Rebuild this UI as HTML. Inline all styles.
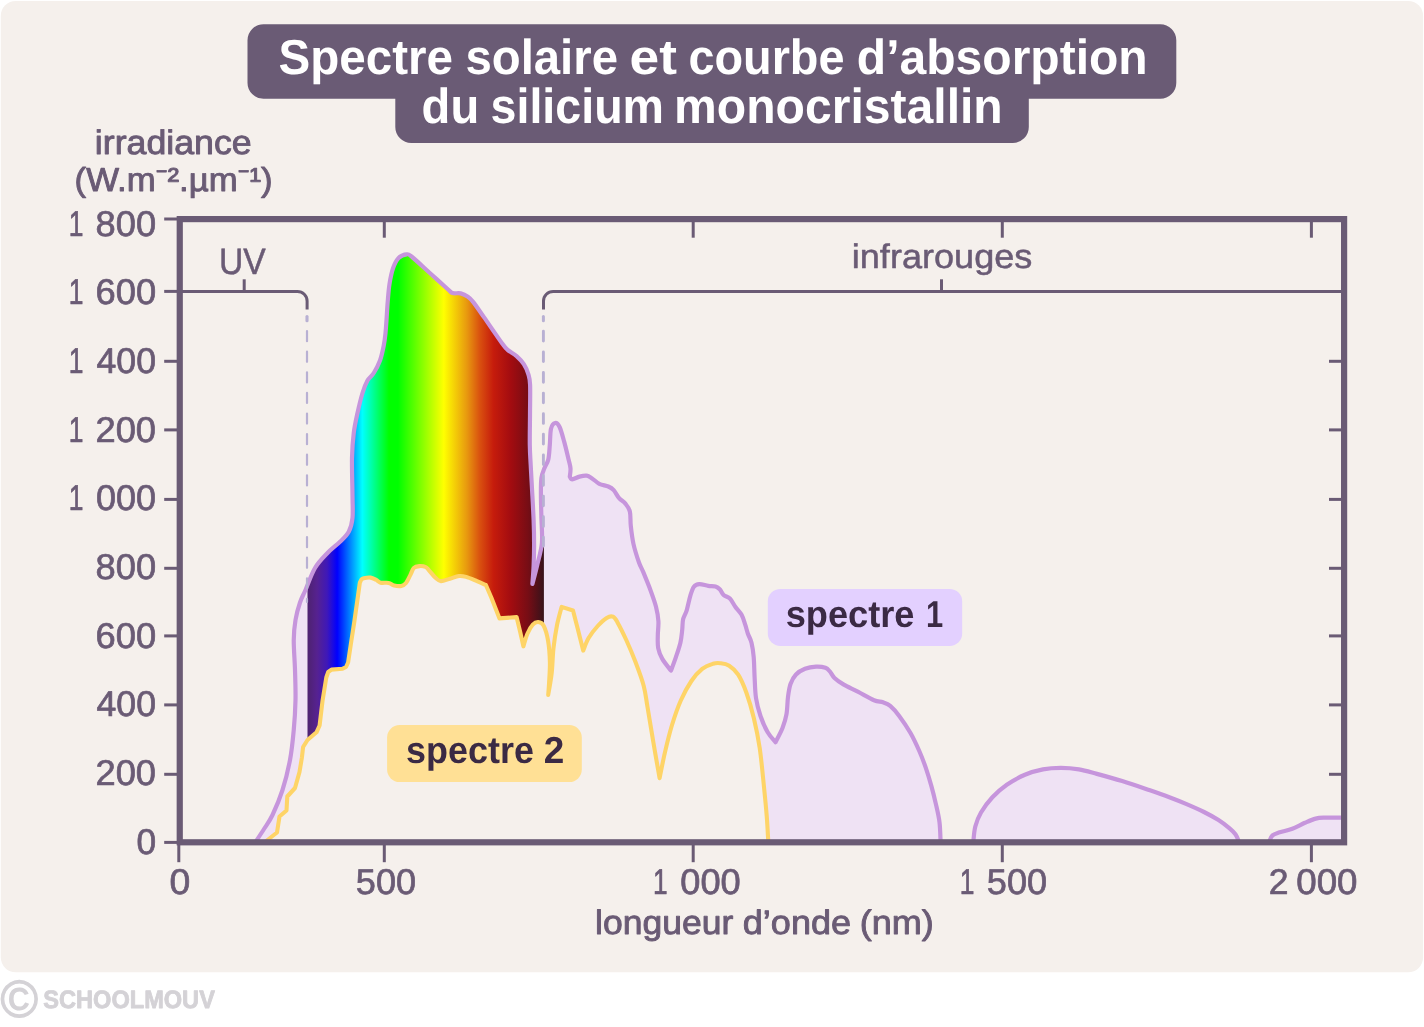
<!DOCTYPE html>
<html lang="fr"><head><meta charset="utf-8">
<title>Spectre solaire et courbe d’absorption du silicium monocristallin</title>
<style>
html,body{margin:0;padding:0;background:#fff;}
body{width:1424px;height:1027px;overflow:hidden;}
svg{display:block;font-family:"Liberation Sans",sans-serif;text-rendering:geometricPrecision;}
</style></head><body>
<svg width="1424" height="1027" viewBox="0 0 1424 1027">
<defs>
<linearGradient id="rainbow" gradientUnits="userSpaceOnUse" x1="307.5" y1="0" x2="543.6" y2="0">
<stop offset="0.0000" stop-color="#4e2270"/>
<stop offset="0.0402" stop-color="#562290"/>
<stop offset="0.0826" stop-color="#3f18b8"/>
<stop offset="0.1258" stop-color="#0000ff"/>
<stop offset="0.2321" stop-color="#00ffff"/>
<stop offset="0.3452" stop-color="#00ff00"/>
<stop offset="0.3833" stop-color="#00ff00"/>
<stop offset="0.5773" stop-color="#ffff00"/>
<stop offset="0.6747" stop-color="#e8990f"/>
<stop offset="0.7306" stop-color="#d9500f"/>
<stop offset="0.7874" stop-color="#c61c0c"/>
<stop offset="0.8607" stop-color="#a30c10"/>
<stop offset="0.9348" stop-color="#760d15"/>
<stop offset="1.0000" stop-color="#38121a"/>
</linearGradient>
<clipPath id="underPurple"><path d="M255.50,842.00C256.92,839.83 261.17,833.50 264.00,829.00C266.83,824.50 269.42,821.50 272.50,815.00C275.58,808.50 279.58,799.17 282.50,790.00C285.42,780.83 288.12,770.00 290.00,760.00C291.88,750.00 292.83,740.00 293.75,730.00C294.67,720.00 295.29,710.00 295.50,700.00C295.71,690.00 295.29,680.00 295.00,670.00C294.71,660.00 293.67,648.33 293.75,640.00C293.83,631.67 294.46,626.25 295.50,620.00C296.54,613.75 298.33,607.50 300.00,602.50C301.67,597.50 303.00,595.75 305.50,590.00C308.00,584.25 311.33,574.17 315.00,568.00C318.67,561.83 323.33,557.38 327.50,553.00C331.67,548.62 336.46,545.29 340.00,541.75C343.54,538.21 346.67,535.71 348.75,531.75C350.83,527.79 351.88,524.04 352.50,518.00C353.12,511.96 352.58,505.50 352.50,495.50C352.42,485.50 351.79,468.42 352.00,458.00C352.21,447.58 352.83,440.50 353.75,433.00C354.67,425.50 356.04,419.67 357.50,413.00C358.96,406.33 360.83,398.42 362.50,393.00C364.17,387.58 365.62,383.83 367.50,380.50C369.38,377.17 371.67,376.33 373.75,373.00C375.83,369.67 378.33,365.08 380.00,360.50C381.67,355.92 382.83,350.08 383.75,345.50C384.67,340.92 385.04,337.25 385.50,333.00C385.96,328.75 386.13,325.17 386.50,320.00C386.87,314.83 387.20,308.00 387.70,302.00C388.20,296.00 388.58,289.70 389.50,284.00C390.42,278.30 391.68,272.15 393.20,267.80C394.72,263.45 396.35,260.15 398.60,257.90C400.85,255.65 404.45,254.45 406.70,254.30C408.95,254.15 408.20,253.85 412.10,257.00C416.00,260.15 424.10,267.78 430.10,273.20C436.10,278.62 444.35,286.18 448.10,289.50C451.85,292.82 450.50,292.45 452.60,293.10C454.70,293.75 458.15,292.80 460.70,293.40C463.25,294.00 465.80,295.25 467.90,296.70C470.00,298.15 470.60,298.65 473.30,302.10C476.00,305.55 479.28,310.50 484.10,317.40C488.92,324.30 498.28,338.10 502.20,343.50C506.12,348.90 505.20,347.70 507.60,349.80C510.00,351.90 513.90,353.70 516.60,356.10C519.30,358.50 521.85,361.20 523.80,364.20C525.75,367.20 527.25,370.65 528.30,374.10C529.35,377.55 529.82,378.08 530.10,384.90C530.38,391.72 530.05,404.98 530.00,415.00C529.95,425.02 529.68,436.67 529.80,445.00C529.92,453.33 530.35,458.00 530.70,465.00C531.05,472.00 531.42,477.83 531.90,487.00C532.38,496.17 533.23,510.33 533.60,520.00C533.97,529.67 534.10,537.33 534.10,545.00C534.10,552.67 533.88,559.50 533.60,566.00C533.32,572.50 532.60,581.00 532.40,584.00C533.22,580.78 535.72,571.53 537.30,564.70C538.88,557.87 541.22,550.78 541.90,543.00C542.58,535.22 541.57,526.07 541.40,518.00C541.23,509.93 540.90,501.27 540.90,494.60C540.90,487.93 540.80,482.43 541.40,478.00C542.00,473.57 543.35,471.08 544.50,468.00C545.65,464.92 547.42,463.33 548.30,459.50C549.18,455.67 549.35,450.12 549.80,445.00C550.25,439.88 550.12,432.47 551.00,428.80C551.88,425.13 553.67,423.30 555.10,423.00C556.53,422.70 558.10,423.93 559.60,427.00C561.10,430.07 562.60,435.98 564.10,441.40C565.60,446.82 567.53,454.98 568.60,459.50C569.67,464.02 570.30,465.65 570.50,468.50C570.70,471.35 569.92,475.25 569.80,476.60C570.22,477.05 570.68,479.30 572.30,479.30C573.92,479.30 577.10,477.20 579.50,476.60C581.90,476.00 584.60,475.40 586.70,475.70C588.80,476.00 590.00,477.05 592.10,478.40C594.20,479.75 596.60,482.45 599.30,483.80C602.00,485.15 605.90,485.45 608.30,486.50C610.70,487.55 611.90,488.15 613.70,490.10C615.50,492.05 617.15,495.95 619.10,498.20C621.05,500.45 623.60,501.35 625.40,503.60C627.20,505.85 629.00,507.95 629.90,511.70C630.80,515.45 630.20,520.70 630.80,526.10C631.40,531.50 632.15,538.08 633.50,544.10C634.85,550.12 637.25,557.48 638.90,562.20C640.55,566.92 641.45,567.68 643.40,572.40C645.35,577.12 648.50,584.78 650.60,590.50C652.70,596.22 654.70,601.60 656.00,606.70C657.30,611.80 658.10,616.30 658.40,621.10C658.70,625.90 657.83,631.00 657.80,635.50C657.77,640.00 657.45,644.20 658.20,648.10C658.95,652.00 660.17,655.15 662.30,658.90C664.43,662.65 669.55,668.65 671.00,670.60C671.82,668.35 674.33,661.75 675.90,657.10C677.47,652.45 679.35,647.20 680.40,642.70C681.45,638.20 681.75,634.00 682.20,630.10C682.65,626.20 682.35,622.60 683.10,619.30C683.85,616.00 685.50,614.20 686.70,610.30C687.90,606.40 689.10,599.82 690.30,595.90C691.50,591.98 692.40,588.77 693.90,586.80C695.40,584.83 696.90,584.25 699.30,584.10C701.70,583.95 705.60,585.50 708.30,585.90C711.00,586.30 713.55,585.90 715.50,586.50C717.45,587.10 718.65,588.08 720.00,589.50C721.35,590.92 721.95,593.48 723.60,595.00C725.25,596.52 727.95,596.65 729.90,598.60C731.85,600.55 733.35,604.00 735.30,606.70C737.25,609.40 739.95,611.80 741.60,614.80C743.25,617.80 744.15,621.55 745.20,624.70C746.25,627.85 746.85,630.70 747.90,633.70C748.95,636.70 750.53,638.80 751.50,642.70C752.47,646.60 753.18,651.38 753.70,657.10C754.22,662.82 754.22,670.18 754.60,677.00C754.98,683.82 755.02,691.50 756.00,698.00C756.98,704.50 758.55,710.28 760.50,716.00C762.45,721.72 765.20,727.93 767.70,732.30C770.20,736.67 774.20,740.55 775.50,742.20C776.67,739.83 780.67,732.67 782.50,728.00C784.33,723.33 785.58,719.37 786.50,714.20C787.42,709.03 787.33,702.03 788.00,697.00C788.67,691.97 789.17,687.75 790.50,684.00C791.83,680.25 793.58,677.03 796.00,674.50C798.42,671.97 801.67,670.12 805.00,668.80C808.33,667.48 812.60,666.77 816.00,666.60C819.40,666.43 823.07,666.95 825.40,667.80C827.73,668.65 828.48,670.00 830.00,671.70C831.52,673.40 832.27,675.88 834.50,678.00C836.73,680.12 839.52,682.13 843.40,684.40C847.28,686.67 852.70,688.97 857.80,691.60C862.90,694.23 869.80,698.42 874.00,700.20C878.20,701.98 880.30,701.35 883.00,702.30C885.70,703.25 887.50,703.63 890.20,705.90C892.90,708.17 895.82,711.38 899.20,715.90C902.58,720.42 907.12,727.07 910.50,733.00C913.88,738.93 916.93,745.65 919.50,751.50C922.07,757.35 923.92,762.33 925.90,768.10C927.88,773.87 929.73,780.10 931.40,786.10C933.07,792.10 934.55,798.08 935.90,804.10C937.25,810.12 938.72,815.88 939.50,822.20C940.28,828.52 940.42,838.70 940.60,842.00L940.6,842 L255.5,842ZM973.30,842.00C973.63,839.42 974.02,831.42 975.30,826.50C976.58,821.58 978.15,817.37 981.00,812.50C983.85,807.63 988.10,801.93 992.40,797.30C996.70,792.67 1001.38,788.45 1006.80,784.70C1012.22,780.95 1018.88,777.35 1024.90,774.80C1030.92,772.25 1036.90,770.55 1042.90,769.40C1048.90,768.25 1054.90,767.90 1060.90,767.90C1066.90,767.90 1072.90,768.40 1078.90,769.40C1084.90,770.40 1089.68,771.95 1096.90,773.90C1104.12,775.85 1113.48,778.40 1122.20,781.10C1130.92,783.80 1141.23,787.37 1149.20,790.10C1157.17,792.83 1163.87,795.20 1170.00,797.50C1176.13,799.80 1180.33,801.48 1186.00,803.90C1191.67,806.32 1198.58,809.30 1204.00,812.00C1209.42,814.70 1214.28,817.40 1218.50,820.10C1222.72,822.80 1226.45,825.80 1229.30,828.20C1232.15,830.60 1233.98,832.20 1235.60,834.50C1237.22,836.80 1238.43,840.75 1239.00,842.00ZM1269.00,842.00C1269.58,840.90 1270.72,837.02 1272.50,835.40C1274.28,833.78 1276.40,833.42 1279.70,832.30C1283.00,831.18 1288.10,830.28 1292.30,828.70C1296.50,827.12 1301.00,824.48 1304.90,822.80C1308.80,821.12 1312.38,819.47 1315.70,818.60C1319.02,817.73 1320.58,817.77 1324.80,817.60C1329.02,817.43 1338.30,817.60 1341.00,817.60L1341,842 L1269,842Z"/></clipPath>
</defs>
<rect x="0.8" y="0.9" width="1422.3" height="971.4" rx="15" ry="15" fill="#f5f0ec"/>
<path fill="#6a5b75" d="M263.5,24.3H1160.3a16,16 0 0 1 16,16V82.8a16,16 0 0 1 -16,16H1028.8V127a16,16 0 0 1 -16,16H411.3a16,16 0 0 1 -16,-16V98.8H263.5a16,16 0 0 1 -16,-16V40.3a16,16 0 0 1 16,-16Z"/>
<text y="74.00" font-size="49.2" fill="#fff" font-weight="bold"><tspan id="w1" x="278.46" textLength="174.53" lengthAdjust="spacingAndGlyphs">Spectre</tspan> <tspan id="w2" x="465.48" textLength="152.48" lengthAdjust="spacingAndGlyphs">solaire</tspan> <tspan id="w3" x="629.54" textLength="47.40" lengthAdjust="spacingAndGlyphs">et</tspan> <tspan id="w4" x="688.39" textLength="156.13" lengthAdjust="spacingAndGlyphs">courbe</tspan> <tspan id="w5" x="856.83" textLength="290.87" lengthAdjust="spacingAndGlyphs">d’absorption</tspan></text>
<text y="123.30" font-size="49.2" fill="#fff" font-weight="bold"><tspan id="w6" x="421.57" textLength="57.64" lengthAdjust="spacingAndGlyphs">du</tspan> <tspan id="w7" x="490.56" textLength="173.47" lengthAdjust="spacingAndGlyphs">silicium</tspan> <tspan id="w8" x="674.08" textLength="328.67" lengthAdjust="spacingAndGlyphs">monocristallin</tspan></text>
<text y="154.20" font-size="34" fill="#6a5b75" stroke="#6a5b75" stroke-width="0.9" stroke-linejoin="round"><tspan id="w9" x="94.85" textLength="156.85" lengthAdjust="spacingAndGlyphs">irradiance</tspan></text>
<text y="190.60" font-size="33.3" fill="#6a5b75" stroke="#6a5b75" stroke-width="0.9" stroke-linejoin="round"><tspan id="w10" x="74.55" textLength="198.02" lengthAdjust="spacingAndGlyphs">(W.m⁻².µm⁻¹)</tspan></text>
<text y="934.00" font-size="33.8" fill="#6a5b75" stroke="#6a5b75" stroke-width="0.9" stroke-linejoin="round"><tspan id="w11" x="595.05" textLength="138.18" lengthAdjust="spacingAndGlyphs">longueur</tspan> <tspan id="w12" x="742.81" textLength="108.23" lengthAdjust="spacingAndGlyphs">d’onde</tspan> <tspan id="w13" x="859.65" textLength="74.12" lengthAdjust="spacingAndGlyphs">(nm)</tspan></text>
<path d="M255.50,842.00C256.92,839.83 261.17,833.50 264.00,829.00C266.83,824.50 269.42,821.50 272.50,815.00C275.58,808.50 279.58,799.17 282.50,790.00C285.42,780.83 288.12,770.00 290.00,760.00C291.88,750.00 292.83,740.00 293.75,730.00C294.67,720.00 295.29,710.00 295.50,700.00C295.71,690.00 295.29,680.00 295.00,670.00C294.71,660.00 293.67,648.33 293.75,640.00C293.83,631.67 294.46,626.25 295.50,620.00C296.54,613.75 298.33,607.50 300.00,602.50C301.67,597.50 303.00,595.75 305.50,590.00C308.00,584.25 311.33,574.17 315.00,568.00C318.67,561.83 323.33,557.38 327.50,553.00C331.67,548.62 336.46,545.29 340.00,541.75C343.54,538.21 346.67,535.71 348.75,531.75C350.83,527.79 351.88,524.04 352.50,518.00C353.12,511.96 352.58,505.50 352.50,495.50C352.42,485.50 351.79,468.42 352.00,458.00C352.21,447.58 352.83,440.50 353.75,433.00C354.67,425.50 356.04,419.67 357.50,413.00C358.96,406.33 360.83,398.42 362.50,393.00C364.17,387.58 365.62,383.83 367.50,380.50C369.38,377.17 371.67,376.33 373.75,373.00C375.83,369.67 378.33,365.08 380.00,360.50C381.67,355.92 382.83,350.08 383.75,345.50C384.67,340.92 385.04,337.25 385.50,333.00C385.96,328.75 386.13,325.17 386.50,320.00C386.87,314.83 387.20,308.00 387.70,302.00C388.20,296.00 388.58,289.70 389.50,284.00C390.42,278.30 391.68,272.15 393.20,267.80C394.72,263.45 396.35,260.15 398.60,257.90C400.85,255.65 404.45,254.45 406.70,254.30C408.95,254.15 408.20,253.85 412.10,257.00C416.00,260.15 424.10,267.78 430.10,273.20C436.10,278.62 444.35,286.18 448.10,289.50C451.85,292.82 450.50,292.45 452.60,293.10C454.70,293.75 458.15,292.80 460.70,293.40C463.25,294.00 465.80,295.25 467.90,296.70C470.00,298.15 470.60,298.65 473.30,302.10C476.00,305.55 479.28,310.50 484.10,317.40C488.92,324.30 498.28,338.10 502.20,343.50C506.12,348.90 505.20,347.70 507.60,349.80C510.00,351.90 513.90,353.70 516.60,356.10C519.30,358.50 521.85,361.20 523.80,364.20C525.75,367.20 527.25,370.65 528.30,374.10C529.35,377.55 529.82,378.08 530.10,384.90C530.38,391.72 530.05,404.98 530.00,415.00C529.95,425.02 529.68,436.67 529.80,445.00C529.92,453.33 530.35,458.00 530.70,465.00C531.05,472.00 531.42,477.83 531.90,487.00C532.38,496.17 533.23,510.33 533.60,520.00C533.97,529.67 534.10,537.33 534.10,545.00C534.10,552.67 533.88,559.50 533.60,566.00C533.32,572.50 532.60,581.00 532.40,584.00C533.22,580.78 535.72,571.53 537.30,564.70C538.88,557.87 541.22,550.78 541.90,543.00C542.58,535.22 541.57,526.07 541.40,518.00C541.23,509.93 540.90,501.27 540.90,494.60C540.90,487.93 540.80,482.43 541.40,478.00C542.00,473.57 543.35,471.08 544.50,468.00C545.65,464.92 547.42,463.33 548.30,459.50C549.18,455.67 549.35,450.12 549.80,445.00C550.25,439.88 550.12,432.47 551.00,428.80C551.88,425.13 553.67,423.30 555.10,423.00C556.53,422.70 558.10,423.93 559.60,427.00C561.10,430.07 562.60,435.98 564.10,441.40C565.60,446.82 567.53,454.98 568.60,459.50C569.67,464.02 570.30,465.65 570.50,468.50C570.70,471.35 569.92,475.25 569.80,476.60C570.22,477.05 570.68,479.30 572.30,479.30C573.92,479.30 577.10,477.20 579.50,476.60C581.90,476.00 584.60,475.40 586.70,475.70C588.80,476.00 590.00,477.05 592.10,478.40C594.20,479.75 596.60,482.45 599.30,483.80C602.00,485.15 605.90,485.45 608.30,486.50C610.70,487.55 611.90,488.15 613.70,490.10C615.50,492.05 617.15,495.95 619.10,498.20C621.05,500.45 623.60,501.35 625.40,503.60C627.20,505.85 629.00,507.95 629.90,511.70C630.80,515.45 630.20,520.70 630.80,526.10C631.40,531.50 632.15,538.08 633.50,544.10C634.85,550.12 637.25,557.48 638.90,562.20C640.55,566.92 641.45,567.68 643.40,572.40C645.35,577.12 648.50,584.78 650.60,590.50C652.70,596.22 654.70,601.60 656.00,606.70C657.30,611.80 658.10,616.30 658.40,621.10C658.70,625.90 657.83,631.00 657.80,635.50C657.77,640.00 657.45,644.20 658.20,648.10C658.95,652.00 660.17,655.15 662.30,658.90C664.43,662.65 669.55,668.65 671.00,670.60C671.82,668.35 674.33,661.75 675.90,657.10C677.47,652.45 679.35,647.20 680.40,642.70C681.45,638.20 681.75,634.00 682.20,630.10C682.65,626.20 682.35,622.60 683.10,619.30C683.85,616.00 685.50,614.20 686.70,610.30C687.90,606.40 689.10,599.82 690.30,595.90C691.50,591.98 692.40,588.77 693.90,586.80C695.40,584.83 696.90,584.25 699.30,584.10C701.70,583.95 705.60,585.50 708.30,585.90C711.00,586.30 713.55,585.90 715.50,586.50C717.45,587.10 718.65,588.08 720.00,589.50C721.35,590.92 721.95,593.48 723.60,595.00C725.25,596.52 727.95,596.65 729.90,598.60C731.85,600.55 733.35,604.00 735.30,606.70C737.25,609.40 739.95,611.80 741.60,614.80C743.25,617.80 744.15,621.55 745.20,624.70C746.25,627.85 746.85,630.70 747.90,633.70C748.95,636.70 750.53,638.80 751.50,642.70C752.47,646.60 753.18,651.38 753.70,657.10C754.22,662.82 754.22,670.18 754.60,677.00C754.98,683.82 755.02,691.50 756.00,698.00C756.98,704.50 758.55,710.28 760.50,716.00C762.45,721.72 765.20,727.93 767.70,732.30C770.20,736.67 774.20,740.55 775.50,742.20C776.67,739.83 780.67,732.67 782.50,728.00C784.33,723.33 785.58,719.37 786.50,714.20C787.42,709.03 787.33,702.03 788.00,697.00C788.67,691.97 789.17,687.75 790.50,684.00C791.83,680.25 793.58,677.03 796.00,674.50C798.42,671.97 801.67,670.12 805.00,668.80C808.33,667.48 812.60,666.77 816.00,666.60C819.40,666.43 823.07,666.95 825.40,667.80C827.73,668.65 828.48,670.00 830.00,671.70C831.52,673.40 832.27,675.88 834.50,678.00C836.73,680.12 839.52,682.13 843.40,684.40C847.28,686.67 852.70,688.97 857.80,691.60C862.90,694.23 869.80,698.42 874.00,700.20C878.20,701.98 880.30,701.35 883.00,702.30C885.70,703.25 887.50,703.63 890.20,705.90C892.90,708.17 895.82,711.38 899.20,715.90C902.58,720.42 907.12,727.07 910.50,733.00C913.88,738.93 916.93,745.65 919.50,751.50C922.07,757.35 923.92,762.33 925.90,768.10C927.88,773.87 929.73,780.10 931.40,786.10C933.07,792.10 934.55,798.08 935.90,804.10C937.25,810.12 938.72,815.88 939.50,822.20C940.28,828.52 940.42,838.70 940.60,842.00L940.6,842 L255.5,842ZM973.30,842.00C973.63,839.42 974.02,831.42 975.30,826.50C976.58,821.58 978.15,817.37 981.00,812.50C983.85,807.63 988.10,801.93 992.40,797.30C996.70,792.67 1001.38,788.45 1006.80,784.70C1012.22,780.95 1018.88,777.35 1024.90,774.80C1030.92,772.25 1036.90,770.55 1042.90,769.40C1048.90,768.25 1054.90,767.90 1060.90,767.90C1066.90,767.90 1072.90,768.40 1078.90,769.40C1084.90,770.40 1089.68,771.95 1096.90,773.90C1104.12,775.85 1113.48,778.40 1122.20,781.10C1130.92,783.80 1141.23,787.37 1149.20,790.10C1157.17,792.83 1163.87,795.20 1170.00,797.50C1176.13,799.80 1180.33,801.48 1186.00,803.90C1191.67,806.32 1198.58,809.30 1204.00,812.00C1209.42,814.70 1214.28,817.40 1218.50,820.10C1222.72,822.80 1226.45,825.80 1229.30,828.20C1232.15,830.60 1233.98,832.20 1235.60,834.50C1237.22,836.80 1238.43,840.75 1239.00,842.00ZM1269.00,842.00C1269.58,840.90 1270.72,837.02 1272.50,835.40C1274.28,833.78 1276.40,833.42 1279.70,832.30C1283.00,831.18 1288.10,830.28 1292.30,828.70C1296.50,827.12 1301.00,824.48 1304.90,822.80C1308.80,821.12 1312.38,819.47 1315.70,818.60C1319.02,817.73 1320.58,817.77 1324.80,817.60C1329.02,817.43 1338.30,817.60 1341.00,817.60L1341,842 L1269,842Z" fill="#efe2f4"/>
<path d="M307.5,240H540V546H543.9V842H307.5Z" fill="url(#rainbow)" clip-path="url(#underPurple)"/>
<path d="M265.00,842.00L277.00,832.50L279.50,816.50L286.50,810.50L287.30,796.50L295.00,788.00L299.50,772.00L301.90,757.50L303.10,747.00L307.50,740.00L316.50,732.30L319.60,725.50L322.50,701.00L326.30,677.50L328.20,672.00L331.50,669.60L342.50,668.80L346.00,667.00L348.10,662.50L350.80,644.50L354.40,621.10L358.00,595.90L359.80,583.00C360.05,582.45 360.63,580.50 361.30,579.70C361.97,578.90 362.25,578.55 363.80,578.20C365.35,577.85 368.57,577.33 370.60,577.60C372.63,577.87 374.35,578.95 376.00,579.80C377.65,580.65 378.40,582.18 380.50,582.70C382.60,583.22 386.33,582.45 388.60,582.90C390.87,583.35 391.98,584.90 394.10,585.40C396.22,585.90 399.35,586.27 401.30,585.90C403.25,585.53 404.30,585.00 405.80,583.20C407.30,581.40 408.95,577.65 410.30,575.10C411.65,572.55 412.40,569.40 413.90,567.90C415.40,566.40 417.35,566.25 419.30,566.10C421.25,565.95 423.95,566.25 425.60,567.00C427.25,567.75 427.55,568.80 429.20,570.60C430.85,572.40 433.55,576.05 435.50,577.80C437.45,579.55 438.50,580.95 440.90,581.10C443.30,581.25 446.90,579.55 449.90,578.70C452.90,577.85 456.20,576.30 458.90,576.00C461.60,575.70 463.10,576.05 466.10,576.90C469.10,577.75 473.60,579.75 476.90,581.10C480.20,582.45 484.40,584.35 485.90,585.00L491.40,597.70L499.50,618.40L516.60,617.10L520.20,631.90L523.40,646.30C524.07,644.20 525.83,637.30 527.40,633.70C528.97,630.10 531.00,626.65 532.80,624.70C534.60,622.75 536.40,621.85 538.20,622.00C540.00,622.15 541.95,622.45 543.60,625.60C545.25,628.75 547.05,634.75 548.10,640.90C549.15,647.05 549.75,655.30 549.90,662.50C550.05,669.70 549.28,678.68 549.00,684.10C548.72,689.52 548.33,693.18 548.20,695.00C548.78,691.33 550.82,680.82 551.70,673.00C552.58,665.18 552.60,656.15 553.50,648.10C554.40,640.05 555.75,631.57 557.10,624.70C558.45,617.83 560.85,609.87 561.60,606.90L573.00,610.50L577.80,629.00L583.20,650.60C584.10,648.50 586.18,642.10 588.60,638.00C591.02,633.90 594.68,629.35 597.70,626.00C600.72,622.65 604.15,619.45 606.70,617.90C609.25,616.35 611.20,615.95 613.00,616.70C614.80,617.45 615.25,618.43 617.50,622.40C619.75,626.37 623.50,633.88 626.50,640.50C629.50,647.12 632.65,654.60 635.50,662.10C638.35,669.60 641.60,678.02 643.60,685.50C645.60,692.98 645.87,697.50 647.50,707.00C649.13,716.50 651.38,730.63 653.40,742.50C655.42,754.37 658.57,772.25 659.60,778.20C660.50,773.85 662.93,760.97 665.00,752.10C667.07,743.23 669.37,733.60 672.00,725.00C674.63,716.40 677.57,707.83 680.80,700.50C684.03,693.17 687.83,686.27 691.40,681.00C694.97,675.73 698.60,671.77 702.20,668.90C705.80,666.03 710.00,664.75 713.00,663.80C716.00,662.85 717.50,662.88 720.20,663.20C722.90,663.52 726.20,663.78 729.20,665.70C732.20,667.62 735.32,670.15 738.20,674.70C741.08,679.25 743.90,685.78 746.50,693.00C749.10,700.22 751.60,708.83 753.80,718.00C756.00,727.17 757.98,736.32 759.70,748.00C761.42,759.68 762.92,776.60 764.10,788.10C765.28,799.60 766.10,808.02 766.80,817.00C767.50,825.98 768.05,837.83 768.30,842.00L265,842Z" fill="#f5f0ec"/>
<g fill="none" stroke-width="4.2" stroke-linejoin="round" stroke-linecap="butt">
<path d="M255.50,842.00C256.92,839.83 261.17,833.50 264.00,829.00C266.83,824.50 269.42,821.50 272.50,815.00C275.58,808.50 279.58,799.17 282.50,790.00C285.42,780.83 288.12,770.00 290.00,760.00C291.88,750.00 292.83,740.00 293.75,730.00C294.67,720.00 295.29,710.00 295.50,700.00C295.71,690.00 295.29,680.00 295.00,670.00C294.71,660.00 293.67,648.33 293.75,640.00C293.83,631.67 294.46,626.25 295.50,620.00C296.54,613.75 298.33,607.50 300.00,602.50C301.67,597.50 303.00,595.75 305.50,590.00C308.00,584.25 311.33,574.17 315.00,568.00C318.67,561.83 323.33,557.38 327.50,553.00C331.67,548.62 336.46,545.29 340.00,541.75C343.54,538.21 346.67,535.71 348.75,531.75C350.83,527.79 351.88,524.04 352.50,518.00C353.12,511.96 352.58,505.50 352.50,495.50C352.42,485.50 351.79,468.42 352.00,458.00C352.21,447.58 352.83,440.50 353.75,433.00C354.67,425.50 356.04,419.67 357.50,413.00C358.96,406.33 360.83,398.42 362.50,393.00C364.17,387.58 365.62,383.83 367.50,380.50C369.38,377.17 371.67,376.33 373.75,373.00C375.83,369.67 378.33,365.08 380.00,360.50C381.67,355.92 382.83,350.08 383.75,345.50C384.67,340.92 385.04,337.25 385.50,333.00C385.96,328.75 386.13,325.17 386.50,320.00C386.87,314.83 387.20,308.00 387.70,302.00C388.20,296.00 388.58,289.70 389.50,284.00C390.42,278.30 391.68,272.15 393.20,267.80C394.72,263.45 396.35,260.15 398.60,257.90C400.85,255.65 404.45,254.45 406.70,254.30C408.95,254.15 408.20,253.85 412.10,257.00C416.00,260.15 424.10,267.78 430.10,273.20C436.10,278.62 444.35,286.18 448.10,289.50C451.85,292.82 450.50,292.45 452.60,293.10C454.70,293.75 458.15,292.80 460.70,293.40C463.25,294.00 465.80,295.25 467.90,296.70C470.00,298.15 470.60,298.65 473.30,302.10C476.00,305.55 479.28,310.50 484.10,317.40C488.92,324.30 498.28,338.10 502.20,343.50C506.12,348.90 505.20,347.70 507.60,349.80C510.00,351.90 513.90,353.70 516.60,356.10C519.30,358.50 521.85,361.20 523.80,364.20C525.75,367.20 527.25,370.65 528.30,374.10C529.35,377.55 529.82,378.08 530.10,384.90C530.38,391.72 530.05,404.98 530.00,415.00C529.95,425.02 529.68,436.67 529.80,445.00C529.92,453.33 530.35,458.00 530.70,465.00C531.05,472.00 531.42,477.83 531.90,487.00C532.38,496.17 533.23,510.33 533.60,520.00C533.97,529.67 534.10,537.33 534.10,545.00C534.10,552.67 533.88,559.50 533.60,566.00C533.32,572.50 532.60,581.00 532.40,584.00C533.22,580.78 535.72,571.53 537.30,564.70C538.88,557.87 541.22,550.78 541.90,543.00C542.58,535.22 541.57,526.07 541.40,518.00C541.23,509.93 540.90,501.27 540.90,494.60C540.90,487.93 540.80,482.43 541.40,478.00C542.00,473.57 543.35,471.08 544.50,468.00C545.65,464.92 547.42,463.33 548.30,459.50C549.18,455.67 549.35,450.12 549.80,445.00C550.25,439.88 550.12,432.47 551.00,428.80C551.88,425.13 553.67,423.30 555.10,423.00C556.53,422.70 558.10,423.93 559.60,427.00C561.10,430.07 562.60,435.98 564.10,441.40C565.60,446.82 567.53,454.98 568.60,459.50C569.67,464.02 570.30,465.65 570.50,468.50C570.70,471.35 569.92,475.25 569.80,476.60C570.22,477.05 570.68,479.30 572.30,479.30C573.92,479.30 577.10,477.20 579.50,476.60C581.90,476.00 584.60,475.40 586.70,475.70C588.80,476.00 590.00,477.05 592.10,478.40C594.20,479.75 596.60,482.45 599.30,483.80C602.00,485.15 605.90,485.45 608.30,486.50C610.70,487.55 611.90,488.15 613.70,490.10C615.50,492.05 617.15,495.95 619.10,498.20C621.05,500.45 623.60,501.35 625.40,503.60C627.20,505.85 629.00,507.95 629.90,511.70C630.80,515.45 630.20,520.70 630.80,526.10C631.40,531.50 632.15,538.08 633.50,544.10C634.85,550.12 637.25,557.48 638.90,562.20C640.55,566.92 641.45,567.68 643.40,572.40C645.35,577.12 648.50,584.78 650.60,590.50C652.70,596.22 654.70,601.60 656.00,606.70C657.30,611.80 658.10,616.30 658.40,621.10C658.70,625.90 657.83,631.00 657.80,635.50C657.77,640.00 657.45,644.20 658.20,648.10C658.95,652.00 660.17,655.15 662.30,658.90C664.43,662.65 669.55,668.65 671.00,670.60C671.82,668.35 674.33,661.75 675.90,657.10C677.47,652.45 679.35,647.20 680.40,642.70C681.45,638.20 681.75,634.00 682.20,630.10C682.65,626.20 682.35,622.60 683.10,619.30C683.85,616.00 685.50,614.20 686.70,610.30C687.90,606.40 689.10,599.82 690.30,595.90C691.50,591.98 692.40,588.77 693.90,586.80C695.40,584.83 696.90,584.25 699.30,584.10C701.70,583.95 705.60,585.50 708.30,585.90C711.00,586.30 713.55,585.90 715.50,586.50C717.45,587.10 718.65,588.08 720.00,589.50C721.35,590.92 721.95,593.48 723.60,595.00C725.25,596.52 727.95,596.65 729.90,598.60C731.85,600.55 733.35,604.00 735.30,606.70C737.25,609.40 739.95,611.80 741.60,614.80C743.25,617.80 744.15,621.55 745.20,624.70C746.25,627.85 746.85,630.70 747.90,633.70C748.95,636.70 750.53,638.80 751.50,642.70C752.47,646.60 753.18,651.38 753.70,657.10C754.22,662.82 754.22,670.18 754.60,677.00C754.98,683.82 755.02,691.50 756.00,698.00C756.98,704.50 758.55,710.28 760.50,716.00C762.45,721.72 765.20,727.93 767.70,732.30C770.20,736.67 774.20,740.55 775.50,742.20C776.67,739.83 780.67,732.67 782.50,728.00C784.33,723.33 785.58,719.37 786.50,714.20C787.42,709.03 787.33,702.03 788.00,697.00C788.67,691.97 789.17,687.75 790.50,684.00C791.83,680.25 793.58,677.03 796.00,674.50C798.42,671.97 801.67,670.12 805.00,668.80C808.33,667.48 812.60,666.77 816.00,666.60C819.40,666.43 823.07,666.95 825.40,667.80C827.73,668.65 828.48,670.00 830.00,671.70C831.52,673.40 832.27,675.88 834.50,678.00C836.73,680.12 839.52,682.13 843.40,684.40C847.28,686.67 852.70,688.97 857.80,691.60C862.90,694.23 869.80,698.42 874.00,700.20C878.20,701.98 880.30,701.35 883.00,702.30C885.70,703.25 887.50,703.63 890.20,705.90C892.90,708.17 895.82,711.38 899.20,715.90C902.58,720.42 907.12,727.07 910.50,733.00C913.88,738.93 916.93,745.65 919.50,751.50C922.07,757.35 923.92,762.33 925.90,768.10C927.88,773.87 929.73,780.10 931.40,786.10C933.07,792.10 934.55,798.08 935.90,804.10C937.25,810.12 938.72,815.88 939.50,822.20C940.28,828.52 940.42,838.70 940.60,842.00" stroke="#c695dc"/>
<path d="M973.30,842.00C973.63,839.42 974.02,831.42 975.30,826.50C976.58,821.58 978.15,817.37 981.00,812.50C983.85,807.63 988.10,801.93 992.40,797.30C996.70,792.67 1001.38,788.45 1006.80,784.70C1012.22,780.95 1018.88,777.35 1024.90,774.80C1030.92,772.25 1036.90,770.55 1042.90,769.40C1048.90,768.25 1054.90,767.90 1060.90,767.90C1066.90,767.90 1072.90,768.40 1078.90,769.40C1084.90,770.40 1089.68,771.95 1096.90,773.90C1104.12,775.85 1113.48,778.40 1122.20,781.10C1130.92,783.80 1141.23,787.37 1149.20,790.10C1157.17,792.83 1163.87,795.20 1170.00,797.50C1176.13,799.80 1180.33,801.48 1186.00,803.90C1191.67,806.32 1198.58,809.30 1204.00,812.00C1209.42,814.70 1214.28,817.40 1218.50,820.10C1222.72,822.80 1226.45,825.80 1229.30,828.20C1232.15,830.60 1233.98,832.20 1235.60,834.50C1237.22,836.80 1238.43,840.75 1239.00,842.00" stroke="#c695dc"/>
<path d="M1269.00,842.00C1269.58,840.90 1270.72,837.02 1272.50,835.40C1274.28,833.78 1276.40,833.42 1279.70,832.30C1283.00,831.18 1288.10,830.28 1292.30,828.70C1296.50,827.12 1301.00,824.48 1304.90,822.80C1308.80,821.12 1312.38,819.47 1315.70,818.60C1319.02,817.73 1320.58,817.77 1324.80,817.60C1329.02,817.43 1338.30,817.60 1341.00,817.60" stroke="#c695dc"/>
<path d="M265.00,842.00L277.00,832.50L279.50,816.50L286.50,810.50L287.30,796.50L295.00,788.00L299.50,772.00L301.90,757.50L303.10,747.00L307.50,740.00L316.50,732.30L319.60,725.50L322.50,701.00L326.30,677.50L328.20,672.00L331.50,669.60L342.50,668.80L346.00,667.00L348.10,662.50L350.80,644.50L354.40,621.10L358.00,595.90L359.80,583.00C360.05,582.45 360.63,580.50 361.30,579.70C361.97,578.90 362.25,578.55 363.80,578.20C365.35,577.85 368.57,577.33 370.60,577.60C372.63,577.87 374.35,578.95 376.00,579.80C377.65,580.65 378.40,582.18 380.50,582.70C382.60,583.22 386.33,582.45 388.60,582.90C390.87,583.35 391.98,584.90 394.10,585.40C396.22,585.90 399.35,586.27 401.30,585.90C403.25,585.53 404.30,585.00 405.80,583.20C407.30,581.40 408.95,577.65 410.30,575.10C411.65,572.55 412.40,569.40 413.90,567.90C415.40,566.40 417.35,566.25 419.30,566.10C421.25,565.95 423.95,566.25 425.60,567.00C427.25,567.75 427.55,568.80 429.20,570.60C430.85,572.40 433.55,576.05 435.50,577.80C437.45,579.55 438.50,580.95 440.90,581.10C443.30,581.25 446.90,579.55 449.90,578.70C452.90,577.85 456.20,576.30 458.90,576.00C461.60,575.70 463.10,576.05 466.10,576.90C469.10,577.75 473.60,579.75 476.90,581.10C480.20,582.45 484.40,584.35 485.90,585.00L491.40,597.70L499.50,618.40L516.60,617.10L520.20,631.90L523.40,646.30C524.07,644.20 525.83,637.30 527.40,633.70C528.97,630.10 531.00,626.65 532.80,624.70C534.60,622.75 536.40,621.85 538.20,622.00C540.00,622.15 541.95,622.45 543.60,625.60C545.25,628.75 547.05,634.75 548.10,640.90C549.15,647.05 549.75,655.30 549.90,662.50C550.05,669.70 549.28,678.68 549.00,684.10C548.72,689.52 548.33,693.18 548.20,695.00C548.78,691.33 550.82,680.82 551.70,673.00C552.58,665.18 552.60,656.15 553.50,648.10C554.40,640.05 555.75,631.57 557.10,624.70C558.45,617.83 560.85,609.87 561.60,606.90L573.00,610.50L577.80,629.00L583.20,650.60C584.10,648.50 586.18,642.10 588.60,638.00C591.02,633.90 594.68,629.35 597.70,626.00C600.72,622.65 604.15,619.45 606.70,617.90C609.25,616.35 611.20,615.95 613.00,616.70C614.80,617.45 615.25,618.43 617.50,622.40C619.75,626.37 623.50,633.88 626.50,640.50C629.50,647.12 632.65,654.60 635.50,662.10C638.35,669.60 641.60,678.02 643.60,685.50C645.60,692.98 645.87,697.50 647.50,707.00C649.13,716.50 651.38,730.63 653.40,742.50C655.42,754.37 658.57,772.25 659.60,778.20C660.50,773.85 662.93,760.97 665.00,752.10C667.07,743.23 669.37,733.60 672.00,725.00C674.63,716.40 677.57,707.83 680.80,700.50C684.03,693.17 687.83,686.27 691.40,681.00C694.97,675.73 698.60,671.77 702.20,668.90C705.80,666.03 710.00,664.75 713.00,663.80C716.00,662.85 717.50,662.88 720.20,663.20C722.90,663.52 726.20,663.78 729.20,665.70C732.20,667.62 735.32,670.15 738.20,674.70C741.08,679.25 743.90,685.78 746.50,693.00C749.10,700.22 751.60,708.83 753.80,718.00C756.00,727.17 757.98,736.32 759.70,748.00C761.42,759.68 762.92,776.60 764.10,788.10C765.28,799.60 766.10,808.02 766.80,817.00C767.50,825.98 768.05,837.83 768.30,842.00" stroke="#fed467" stroke-width="4.1"/>
</g>
<g stroke="#b8b0d3" stroke-linecap="round" fill="none">
<path d="M307,316.6V320.7" stroke-width="3.1"/>
<path d="M307,331.1V602" stroke-width="2.2" stroke-dasharray="10.1 10.5"/>
<path d="M543.4,316.5V320.8" stroke-width="3"/>
<path d="M543.4,331.3V546" stroke-width="2.9" stroke-dasharray="9.7 10.9"/>
</g>
<g fill="none" stroke="#6a5b75" stroke-width="3">
<path d="M180,291.4H297.4a9.7,9.7 0 0 1 9.7,9.7V309.4"/>
<path d="M244.2,279.3V291.4"/>
<path d="M1344,291.4H553.2a9.7,9.7 0 0 0 -9.7,9.7V309.4"/>
<path d="M941.5,279.3V291.4"/>
</g>
<g fill="none" stroke="#6a5b75" stroke-width="3">
<path d="M164.2,219.00H180"/>
<path d="M164.2,291.40H180"/>
<path d="M164.2,361.30H180"/>
<path d="M1329,361.30H1344"/>
<path d="M164.2,429.90H180"/>
<path d="M1329,429.90H1344"/>
<path d="M164.2,499.40H180"/>
<path d="M1329,499.40H1344"/>
<path d="M164.2,568.30H180"/>
<path d="M1329,568.30H1344"/>
<path d="M164.2,635.90H180"/>
<path d="M1329,635.90H1344"/>
<path d="M164.2,704.90H180"/>
<path d="M1329,704.90H1344"/>
<path d="M164.2,774.30H180"/>
<path d="M1329,774.30H1344"/>
<path d="M164.2,842.40H180"/>
<path d="M178.80,842V862.2"/>
<path d="M384.30,842V862.2"/>
<path d="M384.30,219V237.7"/>
<path d="M693.20,842V862.2"/>
<path d="M693.20,219V237.7"/>
<path d="M1002.30,842V862.2"/>
<path d="M1002.30,219V237.7"/>
<path d="M1311.40,842V862.2"/>
<path d="M1311.40,219V237.7"/>
</g>
<rect x="179.75" y="219.1" width="1164.35" height="623.2" fill="none" stroke="#6a5b75" stroke-width="6.2"/>
<text y="235.80" font-size="35.8" fill="#6a5b75" stroke="#6a5b75" stroke-width="0.7" stroke-linejoin="round"><tspan id="w14" x="68.77" textLength="14.70" lengthAdjust="spacingAndGlyphs">1</tspan> <tspan id="w15" x="95.59" textLength="60.50" lengthAdjust="spacingAndGlyphs">800</tspan></text>
<text y="303.90" font-size="35.8" fill="#6a5b75" stroke="#6a5b75" stroke-width="0.7" stroke-linejoin="round"><tspan id="w16" x="68.77" textLength="14.70" lengthAdjust="spacingAndGlyphs">1</tspan> <tspan id="w17" x="95.49" textLength="60.60" lengthAdjust="spacingAndGlyphs">600</tspan></text>
<text y="373.30" font-size="35.8" fill="#6a5b75" stroke="#6a5b75" stroke-width="0.7" stroke-linejoin="round"><tspan id="w18" x="68.77" textLength="14.70" lengthAdjust="spacingAndGlyphs">1</tspan> <tspan id="w19" x="96.51" textLength="59.50" lengthAdjust="spacingAndGlyphs">400</tspan></text>
<text y="442.20" font-size="35.8" fill="#6a5b75" stroke="#6a5b75" stroke-width="0.7" stroke-linejoin="round"><tspan id="w20" x="68.77" textLength="14.70" lengthAdjust="spacingAndGlyphs">1</tspan> <tspan id="w21" x="95.50" textLength="60.53" lengthAdjust="spacingAndGlyphs">200</tspan></text>
<text y="509.60" font-size="35.8" fill="#6a5b75" stroke="#6a5b75" stroke-width="0.7" stroke-linejoin="round"><tspan id="w22" x="68.77" textLength="14.70" lengthAdjust="spacingAndGlyphs">1</tspan> <tspan id="w23" x="96.03" textLength="60.10" lengthAdjust="spacingAndGlyphs">000</tspan></text>
<text y="579.20" font-size="35.8" fill="#6a5b75" stroke="#6a5b75" stroke-width="0.7" stroke-linejoin="round"><tspan id="w24" x="95.59" textLength="60.50" lengthAdjust="spacingAndGlyphs">800</tspan></text>
<text y="647.80" font-size="35.8" fill="#6a5b75" stroke="#6a5b75" stroke-width="0.7" stroke-linejoin="round"><tspan id="w25" x="95.49" textLength="60.60" lengthAdjust="spacingAndGlyphs">600</tspan></text>
<text y="716.20" font-size="35.8" fill="#6a5b75" stroke="#6a5b75" stroke-width="0.7" stroke-linejoin="round"><tspan id="w26" x="96.51" textLength="59.50" lengthAdjust="spacingAndGlyphs">400</tspan></text>
<text y="785.10" font-size="35.8" fill="#6a5b75" stroke="#6a5b75" stroke-width="0.7" stroke-linejoin="round"><tspan id="w27" x="95.50" textLength="60.53" lengthAdjust="spacingAndGlyphs">200</tspan></text>
<text y="853.60" font-size="35.8" fill="#6a5b75" stroke="#6a5b75" stroke-width="0.7" stroke-linejoin="round"><tspan id="w28" x="136.57" textLength="19.64" lengthAdjust="spacingAndGlyphs">0</tspan></text>
<text y="894.40" font-size="35.8" fill="#6a5b75" stroke="#6a5b75" stroke-width="0.7" stroke-linejoin="round"><tspan id="w29" x="169.54" textLength="20.79" lengthAdjust="spacingAndGlyphs">0</tspan></text>
<text y="894.40" font-size="35.8" fill="#6a5b75" stroke="#6a5b75" stroke-width="0.7" stroke-linejoin="round"><tspan id="w30" x="355.82" textLength="60.28" lengthAdjust="spacingAndGlyphs">500</tspan></text>
<text y="894.40" font-size="35.8" fill="#6a5b75" stroke="#6a5b75" stroke-width="0.7" stroke-linejoin="round"><tspan id="w31" x="652.88" textLength="14.60" lengthAdjust="spacingAndGlyphs">1</tspan> <tspan id="w32" x="680.29" textLength="60.41" lengthAdjust="spacingAndGlyphs">000</tspan></text>
<text y="894.40" font-size="35.8" fill="#6a5b75" stroke="#6a5b75" stroke-width="0.7" stroke-linejoin="round"><tspan id="w33" x="959.77" textLength="14.70" lengthAdjust="spacingAndGlyphs">1</tspan> <tspan id="w34" x="986.82" textLength="60.28" lengthAdjust="spacingAndGlyphs">500</tspan></text>
<text y="894.40" font-size="35.8" fill="#6a5b75" stroke="#6a5b75" stroke-width="0.7" stroke-linejoin="round"><tspan id="w35" x="1268.84" textLength="19.80" lengthAdjust="spacingAndGlyphs">2</tspan> <tspan id="w36" x="1296.28" textLength="61.25" lengthAdjust="spacingAndGlyphs">000</tspan></text>
<text y="274.00" font-size="36.6" fill="#6a5b75" stroke="#6a5b75" stroke-width="0.5" stroke-linejoin="round"><tspan id="w37" x="218.90" textLength="46.76" lengthAdjust="spacingAndGlyphs">UV</tspan></text>
<text y="267.90" font-size="34" fill="#6a5b75" stroke="#6a5b75" stroke-width="0.5" stroke-linejoin="round"><tspan id="w38" x="851.79" textLength="180.55" lengthAdjust="spacingAndGlyphs">infrarouges</tspan></text>
<rect x="767.8" y="588.9" width="194.4" height="57.1" rx="12.5" fill="#e3d0ff"/>
<text y="626.80" font-size="37.5" fill="#3b2a44" font-weight="bold"><tspan id="w39" x="785.64" textLength="128.83" lengthAdjust="spacingAndGlyphs">spectre</tspan> <tspan id="w40" x="925.88" textLength="17.19" lengthAdjust="spacingAndGlyphs">1</tspan></text>
<rect x="387.1" y="725" width="194.7" height="57.1" rx="12.5" fill="#ffe095"/>
<text y="762.50" font-size="37.5" fill="#3b2a44" font-weight="bold"><tspan id="w41" x="406.08" textLength="127.82" lengthAdjust="spacingAndGlyphs">spectre</tspan> <tspan id="w42" x="543.79" textLength="20.52" lengthAdjust="spacingAndGlyphs">2</tspan></text>
<text y="1016.90" font-size="52.3" fill="#d4d2d6" stroke="#d4d2d6" stroke-width="1.3" stroke-linejoin="round"><tspan id="w43" x="0.62" textLength="37.62" lengthAdjust="spacingAndGlyphs">©</tspan></text>
<text y="1008.30" font-size="25.2" fill="#d4d2d6" font-weight="bold" stroke="#d4d2d6" stroke-width="0.9" stroke-linejoin="round"><tspan id="w44" x="43.31" textLength="171.56" lengthAdjust="spacingAndGlyphs">SCHOOLMOUV</tspan></text>
</svg>
</body></html>
